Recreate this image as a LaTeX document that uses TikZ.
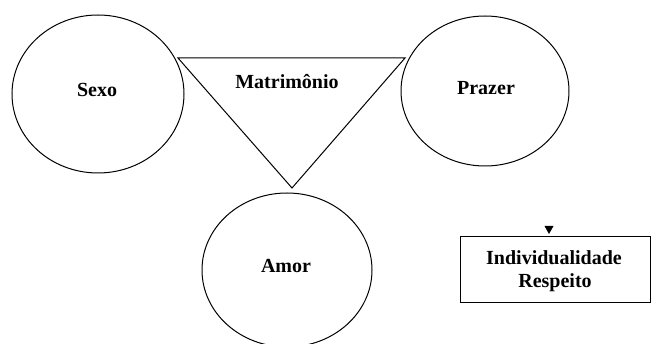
\documentclass[tikz,border=0pt]{standalone}
\usepackage{fontspec}
\setmainfont{Liberation Serif}
\begin{document}
\begin{tikzpicture}[x=1pt,y=-1pt,
  line width=1pt,
  lbl/.style={font=\fontsize{20}{24}\selectfont\bfseries, align=center, inner sep=0pt}]
\useasboundingbox (0,0) rectangle (651,344);
\fill[white] (0,0) rectangle (651,344);
% circles
\draw (98,94) ellipse [x radius=86, y radius=79];
\draw (485,91) ellipse [x radius=84, y radius=75];
\draw (287,270) ellipse [x radius=85, y radius=77];
% triangle
\coordinate (tl) at (178,58);
\coordinate (tr) at (405,58);
\coordinate (tb) at (292,188);
\draw (tl) -- (tr) -- (tb) -- cycle;
% box
\draw (460,237) rectangle (650,303);
\fill (544.5,226) -- (553.5,226) -- (549,234) -- cycle;
% labels
\node[lbl] (sexo) at (97,90) {Sexo};
\node[lbl] (prazer) at (486,88) {Prazer};
\node[lbl] (matr) at (287,82) {Matrimônio};
\node[lbl] (amor) at (286,266) {Amor};
\node[lbl] (ind) at (554,258) {Individualidade};
\node[lbl] (resp) at (555,283) {Respeito};
\end{tikzpicture}
\end{document}
